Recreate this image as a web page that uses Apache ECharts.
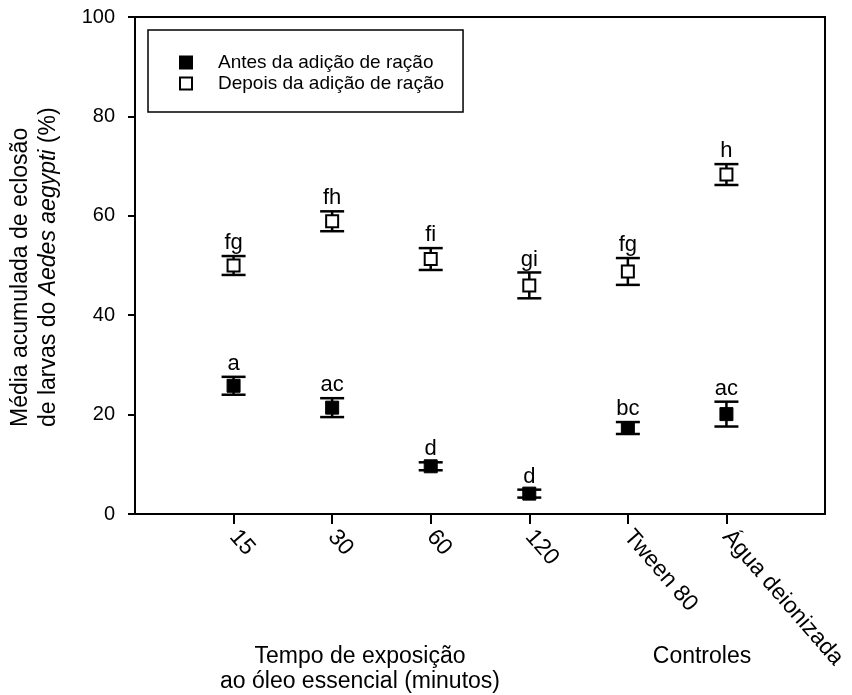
<!DOCTYPE html>
<html>
<head>
<meta charset="utf-8">
<script src="https://cdn.jsdelivr.net/npm/echarts@6/dist/echarts.min.js"></script>
<style>html,body{margin:0;padding:0;background:#fff;}#chart{width:852px;height:695px;}</style>
</head>
<body>
<div id="chart"></div>
<script>
var categories = ['15', '30', '60', '120', 'Tween 80', 'Água deionizada'];
var antesMean = [25.8, 21.4, 9.6, 4.1, 17.3, 20.1];
var antesErr = [1.8, 1.9, 0.8, 0.8, 1.2, 2.5];
var depoisMean = [50.0, 58.9, 51.3, 46.0, 48.8, 68.3];
var depoisErr = [1.9, 2.0, 2.2, 2.6, 2.7, 2.1];
var antesLetters = ['a', 'ac', 'd', 'd', 'bc', 'ac'];
var depoisLetters = ['fg', 'fh', 'fi', 'gi', 'fg', 'h'];
var yTicks = [0, 20, 40, 60, 80, 100];

var FONT = "'Liberation Sans', Arial, Helvetica, sans-serif";
var axisData = [''].concat(categories).concat(['']);

function pts(mean) { return mean.map(function (v, i) { return [i + 1, v]; }); }
function errPts(mean, err, letters) { return mean.map(function (v, i) { return [i + 1, v, err[i], letters[i]]; }); }

function renderErr(params, api) {
  var x = api.value(0), m = api.value(1), e = api.value(2);
  var top = api.coord([x, m + e]);
  var bot = api.coord([x, m - e]);
  var hw = 12;
  var st = { stroke: '#000', lineWidth: 2.5 };
  return {
    type: 'group',
    children: [
      { type: 'line', shape: { x1: top[0], y1: top[1], x2: bot[0], y2: bot[1] }, style: st },
      { type: 'line', shape: { x1: top[0] - hw, y1: top[1], x2: top[0] + hw, y2: top[1] }, style: st },
      { type: 'line', shape: { x1: bot[0] - hw, y1: bot[1], x2: bot[0] + hw, y2: bot[1] }, style: st },
      { type: 'text', x: top[0], y: top[1] - 2, style: { text: api.value(3), font: '22px ' + FONT, fill: '#000', textAlign: 'center', textVerticalAlign: 'bottom' } }
    ]
  };
}

var chart = echarts.init(document.getElementById('chart'));
chart.setOption({
  animation: false,
  backgroundColor: '#fff',
  textStyle: { fontFamily: FONT },
  grid: { left: 135, right: 27, top: 17, bottom: 181, show: true, borderColor: '#000', borderWidth: 2, backgroundColor: 'transparent' },
  legend: {
    orient: 'vertical', left: 148, top: 30,
    padding: [22, 19, 18, 31], itemGap: 0,
    itemWidth: 12, itemHeight: 12,
    borderColor: '#000', borderWidth: 1.5,
    textStyle: { fontSize: 19, color: '#000', fontFamily: FONT, padding: [0, 0, 0, 21], lineHeight: 21 },
    data: [{ name: 'Antes da adição de ração', icon: 'rect' }, { name: 'Depois da adição de ração', icon: 'rect' }]
  },
  xAxis: {
    type: 'category', data: axisData, boundaryGap: false,
    axisLine: { lineStyle: { color: '#000', width: 2 } },
    axisTick: { length: 10, lineStyle: { color: '#000', width: 2 }, interval: function (i) { return i > 0 && i < axisData.length - 1; } },
    axisLabel: { interval: 0, rotate: -49, margin: 19, fontSize: 23, color: '#000', fontFamily: FONT },
    splitLine: { show: false }
  },
  yAxis: {
    type: 'value', min: 0, max: 100, interval: 20,
    axisLine: { show: true, lineStyle: { color: '#000', width: 2 } },
    axisTick: { show: true, length: 7, lineStyle: { color: '#000', width: 2 } },
    axisLabel: { margin: 20, fontSize: 20, color: '#000', fontFamily: FONT },
    splitLine: { show: false }
  },
  series: [
    { name: 'errA', type: 'custom', renderItem: renderErr, data: errPts(antesMean, antesErr, antesLetters), z: 2 },
    { name: 'errD', type: 'custom', renderItem: renderErr, data: errPts(depoisMean, depoisErr, depoisLetters), z: 2 },
    { name: 'Antes da adição de ração', type: 'scatter', symbol: 'rect', symbolSize: 13, data: pts(antesMean), z: 5,
      itemStyle: { color: '#000', borderColor: '#000', borderWidth: 1, opacity: 1 } },
    { name: 'Depois da adição de ração', type: 'scatter', symbol: 'rect', symbolSize: 12, data: pts(depoisMean), z: 5,
      itemStyle: { color: '#fff', borderColor: '#000', borderWidth: 2, opacity: 1 } }
  ],
  graphic: [
    { type: 'text', x: 21, y: 427, rotation: Math.PI / 2,
      style: { text: 'Média acumulada de eclosão', font: '23px ' + FONT, fill: '#000', textAlign: 'left', textVerticalAlign: 'middle' } },
    { type: 'text', x: 49, y: 427, rotation: Math.PI / 2,
      style: { text: 'de larvas do {i|Aedes aegypti} (%)', font: '23px ' + FONT, fill: '#000', textAlign: 'left', textVerticalAlign: 'middle',
        rich: { i: { fontStyle: 'italic', fontSize: 23, fontFamily: FONT } } } },
    { type: 'text', x: 360, y: 657,
      style: { text: 'Tempo de exposição', font: '23px ' + FONT, fill: '#000', textAlign: 'center', textVerticalAlign: 'middle' } },
    { type: 'text', x: 360, y: 682,
      style: { text: 'ao óleo essencial (minutos)', font: '23px ' + FONT, fill: '#000', textAlign: 'center', textVerticalAlign: 'middle' } },
    { type: 'text', x: 702, y: 657,
      style: { text: 'Controles', font: '23px ' + FONT, fill: '#000', textAlign: 'center', textVerticalAlign: 'middle' } }
  ]
});
</script>
</body>
</html>
